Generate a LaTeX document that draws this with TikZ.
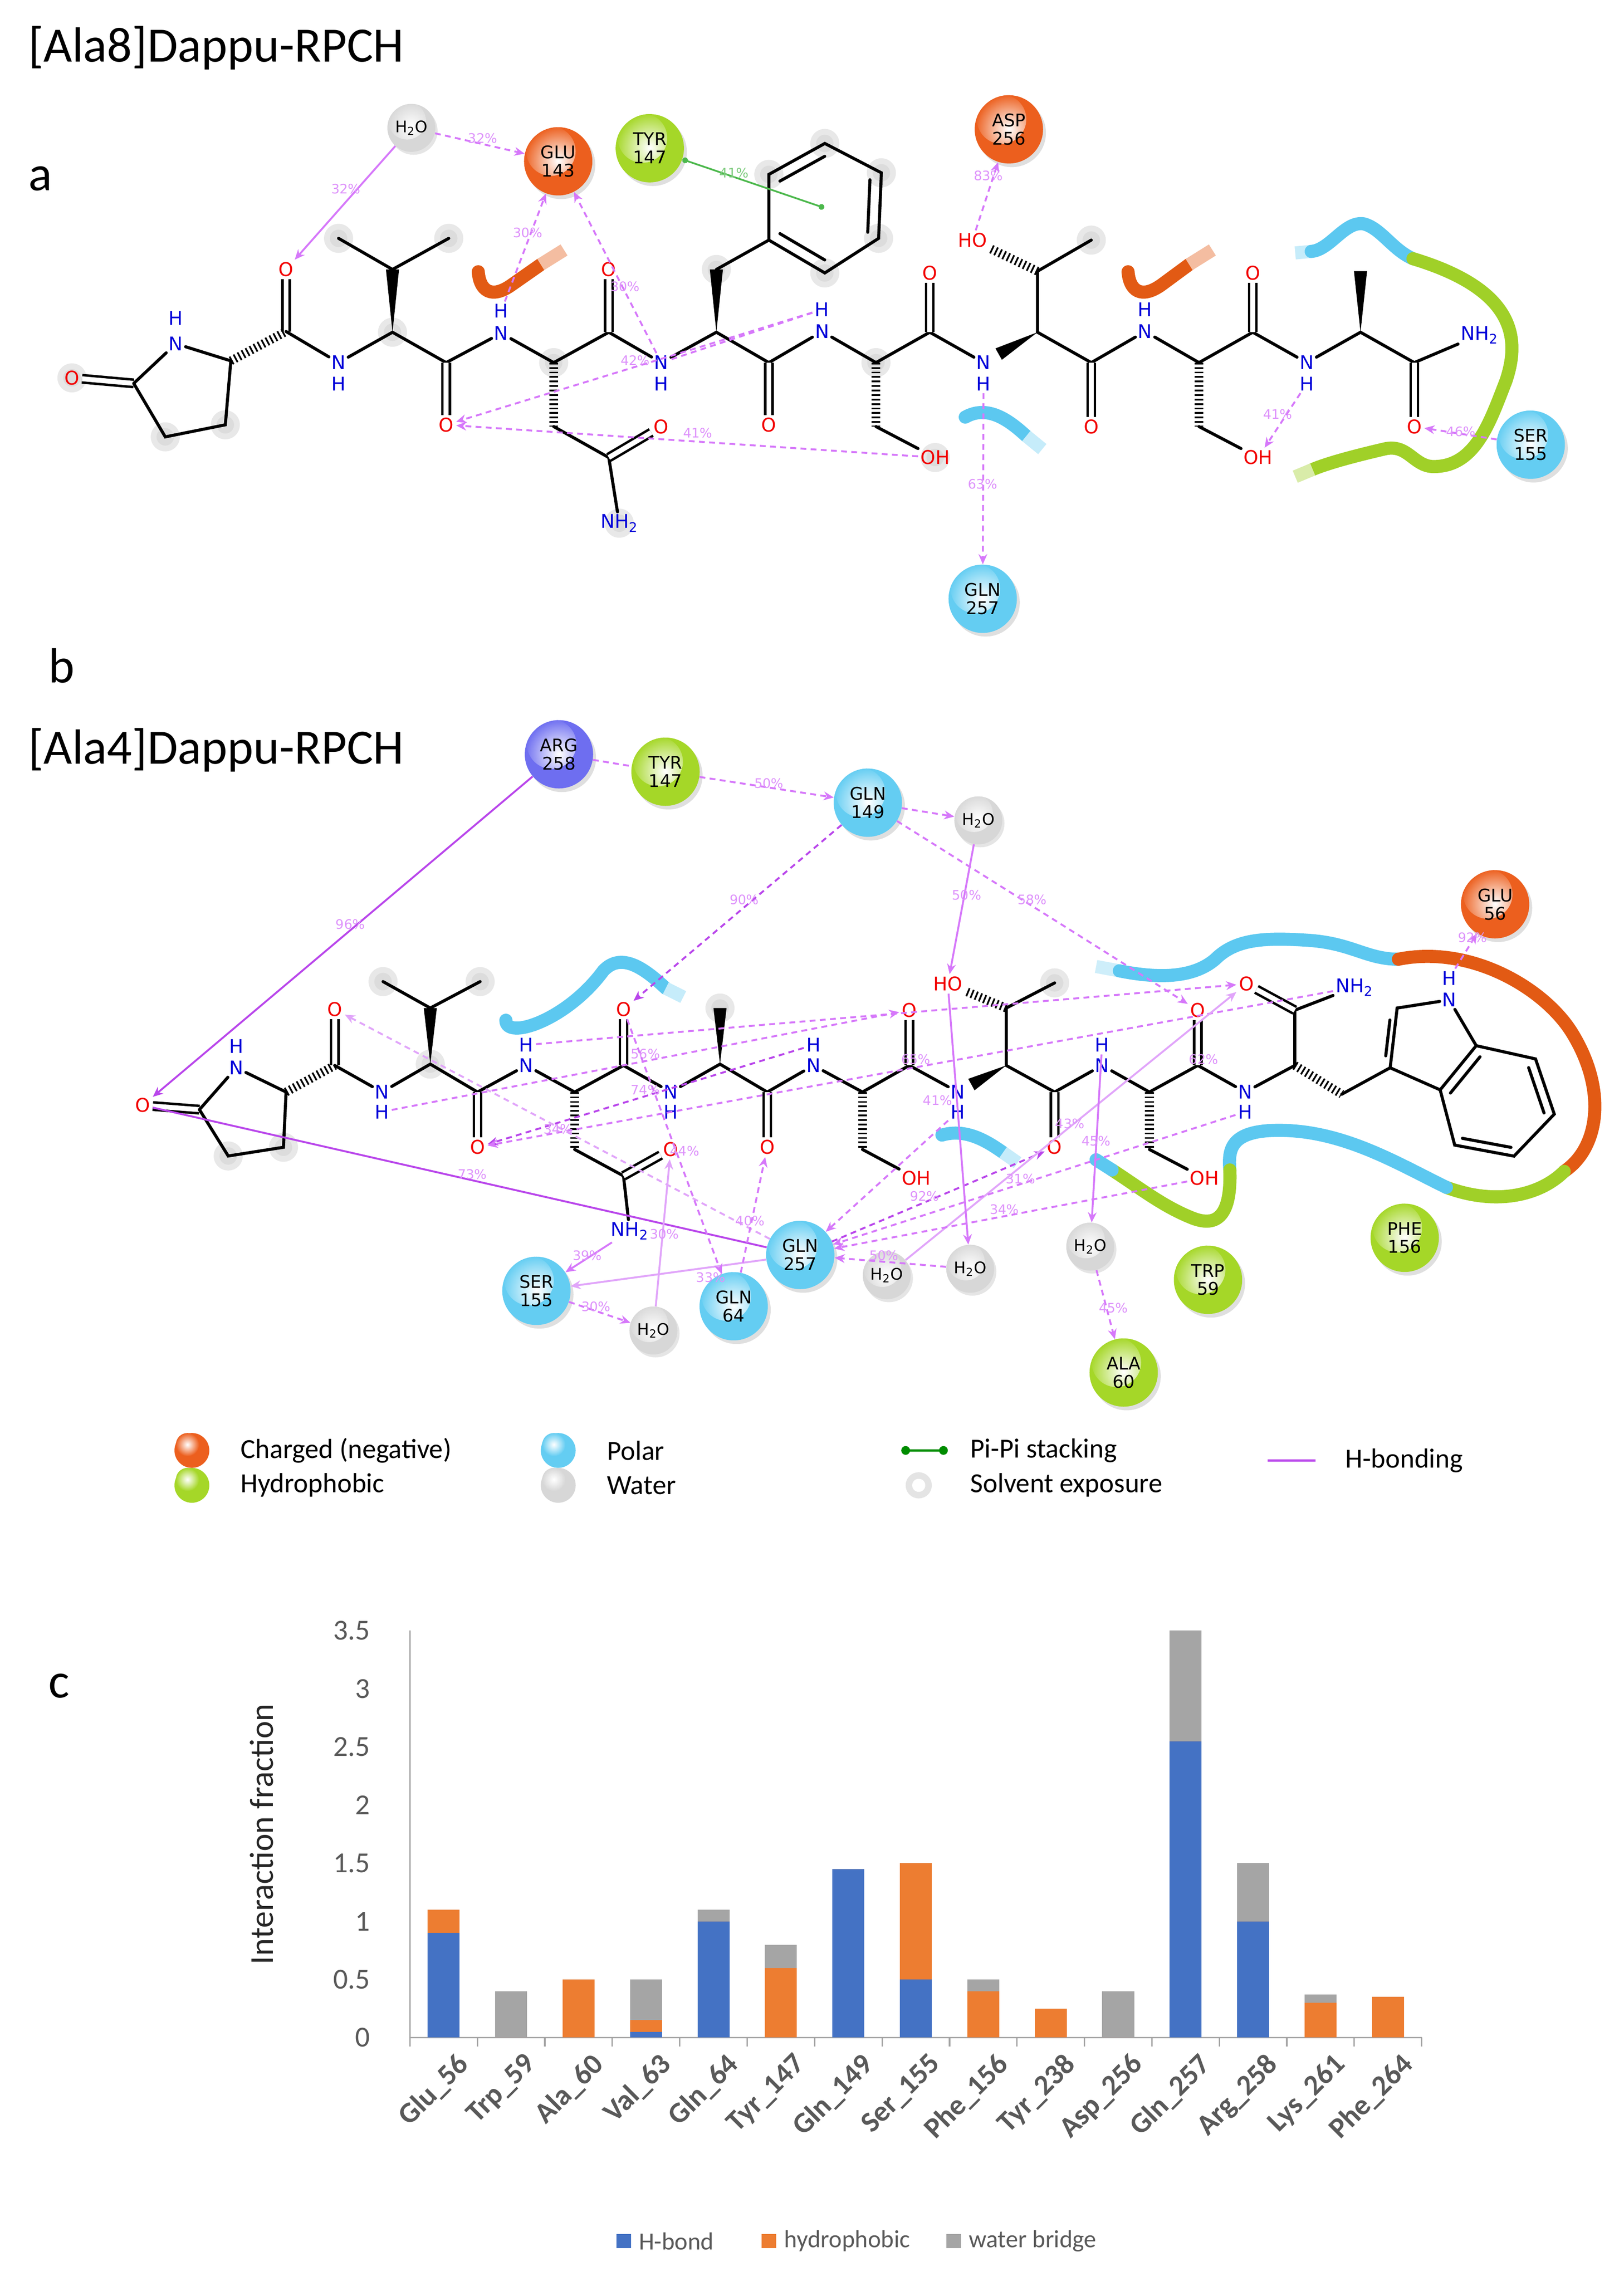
\documentclass[tikz,border=0pt]{standalone}
\usepackage{fontspec}
\setmainfont{Carlito}
\newfontfamily\dv{DejaVu Sans}
\usetikzlibrary{arrows.meta,calc,shadings,shadows}
\definecolor{hbc}{RGB}{214,120,250}
\definecolor{hbd}{RGB}{185,70,235}
\definecolor{hbl}{RGB}{225,165,250}
\definecolor{cyanr}{RGB}{92,200,240}
\definecolor{orr}{RGB}{226,90,20}
\definecolor{grr}{RGB}{160,208,40}
\definecolor{bOr}{RGB}{236,95,30}
\definecolor{bGr}{RGB}{165,215,40}
\definecolor{bCy}{RGB}{100,205,242}
\definecolor{bBl}{RGB}{110,110,240}
\definecolor{bWt}{RGB}{215,215,215}
\definecolor{bH}{RGB}{68,114,196}
\definecolor{bP}{RGB}{237,125,49}
\definecolor{bW}{RGB}{165,165,165}
\definecolor{axg}{RGB}{89,89,89}
\tikzset{
 bond/.style={line width=2.1pt, line cap=round},
 dbond/.style={double=white, double distance=3.4pt, line width=1.7pt},
 hashb/.style={line width=6pt, dash pattern=on 1.2pt off 1.9pt},
 atm/.style={font=\dv\fontsize{13}{13}\selectfont, inner sep=1.6pt},
 Oat/.style={atm, text=red!95!black},
 Nat/.style={atm, text=blue!85!black},
 sball/.style={fill=#1, drop shadow={opacity=0.25,shadow xshift=2pt,shadow yshift=-2.5pt},
   path picture={\shade[inner color=white,outer color=#1] ([xshift=-5pt,yshift=7pt]path picture bounding box.center) circle (17pt);}},
 res/.style={circle, minimum size=47pt, inner sep=0pt, align=center, font=\dv\fontsize{12}{12.5}\selectfont},
 wat/.style={circle, minimum size=33pt, inner sep=0pt, font=\dv\fontsize{11}{11}\selectfont, fill=bWt, drop shadow={opacity=0.2,shadow xshift=1.5pt,shadow yshift=-2pt},
   path picture={\shade[inner color=white,outer color=bWt] ([xshift=-3pt,yshift=5pt]path picture bounding box.center) circle (13pt);}},
 rOr/.style={res, sball=bOr},
 rGr/.style={res, sball=bGr},
 rCy/.style={res, sball=bCy},
 rBl/.style={res, sball=bBl},
 hb/.style={draw=hbc, line width=1.3pt, dash pattern=on 4pt off 3pt, -{Stealth[length=7pt,width=6pt]}},
 hbs/.style={draw=hbc, line width=1.3pt, -{Stealth[length=7pt,width=6pt]}},
 pct/.style={font=\dv\fontsize{9}{9}\selectfont, text=hbc!80, inner sep=0.5pt},
 surf/.style={line width=9pt, line cap=round},
 halo/.style={fill=gray!40, opacity=0.45},
 ttl/.style={font=\fontsize{34}{34}\selectfont, anchor=west},
 lg/.style={font=\fontsize{19}{19}\selectfont, anchor=west},
}
\newcommand\wdg[2]{\fill (#1) -- ($(#2)!4.5pt!90:(#1)$) -- ($(#2)!4.5pt!-90:(#1)$) -- cycle;}
\newcommand\halos[1]{\foreach \p in {#1}{\fill[halo] \p circle (10); \fill[gray!45,opacity=.35] \p circle (6);}}
\newcommand\lball[2]{\fill[#2] (#1) circle (12); \shade[inner color=white,outer color=#2] ($(#1)+(-3,-4)$) circle (8);}
\begin{document}
\begin{tikzpicture}[x=1pt,y=-1pt]
\useasboundingbox[fill=white] (0,0) rectangle (1117,1569.5);
% ---------- titles
\node[ttl] at (16,33) {[Ala8]Dappu-RPCH};
\node[ttl] at (16,123) {a};
\node[ttl] at (30,458) {b};
\node[ttl] at (16,516) {[Ala4]Dappu-RPCH};
\node[ttl] at (30,1160) {c};
% ================= PANEL A =================
\halos{(49.5,260),(113.7,300.6),(155,292.3),(232.9,164),(308.7,164),(270,228.6),(380.9,249.5),(426,360),(492.8,185.4),(528.9,120),(567.4,98.7),(606.3,118.9),(604.4,164),(567.4,187.8),(750.7,165.2),(602.6,249.5),(643.3,314.8)}
% surface strokes
\draw[surf,orr] (329,187) .. controls (330,200) and (338,206) .. (352,196) -- (372,182);
\draw[surf,orr!40,line cap=butt] (372,182) -- (388,172);
\draw[surf,orr] (776,187) .. controls (777,200) and (785,206) .. (799,196) -- (818,182);
\draw[surf,orr!40,line cap=butt] (818,182) -- (834,172);
\draw[surf,cyanr] (664,287) .. controls (680,278) and (695,290) .. (706,300);
\draw[surf,cyanr!35,line cap=butt] (706,300) -- (717,309);
\draw[surf,cyanr!35,line cap=butt] (891,174) -- (902,173);
\draw[surf,cyanr] (902,173) .. controls (915,172) and (925,152) .. (938,154) .. controls (950,157) and (958,172) .. (972,178);
\draw[surf,grr] (972,178) .. controls (1045,200) and (1045,235) .. (1036,262) .. controls (1025,290) and (1015,322) .. (985,321) .. controls (972,320) and (968,305) .. (952,309) .. controls (935,313) and (915,318) .. (903,323);
\draw[surf,grr!40,line cap=butt] (903,323) -- (891,328);
% atoms
\node[Oat] (aO1) at (49.5,260) {O};
\coordinate (aC5) at (92,263.8);
\node[Nat] (aN1) at (121,236.5) {N}; \node[Nat] at (121,219) {H};
\coordinate (aCa1) at (158.8,248.3); \coordinate (aCb1) at (155,292.3); \coordinate (aCg1) at (113.7,300.6);
\coordinate (aC1) at (196.8,228.1); \node[Oat] (aOc1) at (196.8,185.4) {O};
\node[Nat] (aN2) at (232.9,249.5) {N}; \node[Nat] at (232.9,264) {H};
\coordinate (aCa2) at (270,228.6); \coordinate (aCb2) at (270,185.4);
\coordinate (aM1) at (232.9,164); \coordinate (aM2) at (308.7,164);
\coordinate (aC2) at (306.9,249.5); \node[Oat] (aOc2) at (306.9,292.3) {O};
\node[Nat] (aN3) at (344.8,229.3) {N}; \node[Nat] (aH3) at (344.8,214) {H};
\coordinate (aCa3) at (380.9,249.5); \coordinate (aCb3) at (380.9,293.5); \coordinate (aCam) at (418.8,314.8);
\node[Oat] (aOam) at (454.9,293.5) {O}; \node[Nat] (aNam) at (426,360) {NH\textsubscript{2}};
\coordinate (aC3) at (418.8,228.6); \node[Oat] (aOc3) at (418.8,185.4) {O};
\node[Nat] (aN4) at (454.9,249.5) {N}; \node[Nat] (aH4) at (454.9,264) {H};
\coordinate (aCa4) at (492.8,228.6); \coordinate (aCb4) at (492.8,185.4);
\coordinate (aC4) at (528.9,249.5); \node[Oat] (aOc4) at (528.9,292.3) {O};
\node[Nat] (aN5) at (565.5,228.1) {N}; \node[Nat] (aH5) at (565.5,213) {H};
\coordinate (aCa5) at (602.6,249.5); \coordinate (aCb5) at (602.6,293.5); \node[Oat] (aOH5) at (643.3,314.8) {OH};
\coordinate (aC5b) at (639.6,228.6); \node[Oat] (aOc5) at (639.6,187.8) {O};
\node[Nat] (aN6) at (676.6,249.5) {N}; \node[Nat] (aH6) at (676.6,264) {H};
\coordinate (aCa6) at (713.7,228.6); \coordinate (aCb6) at (713.7,186.6);
\coordinate (aN6w) at ($(aCa6)!0.72!(aN6)$);
\node[Oat] (aHO6) at (669,165.2) {HO}; \coordinate (aM6) at (750.7,165.2);
\coordinate (aC6) at (750.7,249.5); \node[Oat] (aOc6) at (750.7,293.5) {O};
\node[Nat] (aN7) at (787.7,228.1) {N}; \node[Nat] at (787.7,213) {H};
\coordinate (aCa7) at (824.8,249.5); \coordinate (aCb7) at (824.8,293.5); \node[Oat] (aOH7) at (865.5,314.8) {OH};
\coordinate (aC7) at (861.8,228.6); \node[Oat] (aOc7) at (861.8,187.8) {O};
\node[Nat] (aN8) at (898.9,249.5) {N}; \node[Nat] (aH8) at (898.9,264) {H};
\coordinate (aCa8) at (935.9,228.6); \coordinate (aM8) at (935.9,186.6);
\coordinate (aC8) at (972.9,249.5); \node[Oat] (aOc8) at (972.9,293.5) {O};
\node[Nat,anchor=west] (aNH2) at (1003,230.5) {NH\textsubscript{2}};
\coordinate (r1) at (528.9,165.2); \coordinate (r2) at (528.9,120); \coordinate (r3) at (567.4,98.7);
\coordinate (r4) at (606.3,118.9); \coordinate (r5) at (604.4,164); \coordinate (r6) at (567.4,187.8);
\coordinate (rc) at (567,143);
% bonds
\draw[dbond] (aO1) -- (aC5);
\draw[bond] (aC5) -- (aN1) -- (aCa1) -- (aCb1) -- (aCg1) -- (aC5);
\draw[hashb] (aCa1) -- (aC1);
\draw[dbond] (aC1) -- (aOc1);
\draw[bond] (aC1) -- (aN2) -- (aCa2) -- (aC2) -- (aN3) -- (aCa3) -- (aC3) -- (aN4) -- (aCa4) -- (aC4) -- (aN5) -- (aCa5) -- (aC5b) -- (aN6);
\draw[bond] (aCa6) -- (aC6) -- (aN7) -- (aCa7) -- (aC7) -- (aN8) -- (aCa8) -- (aC8) -- (aNH2);
\wdg{aCa2}{aCb2} \draw[bond] (aM1) -- (aCb2) -- (aM2);
\draw[dbond] (aC2) -- (aOc2); \draw[dbond] (aC3) -- (aOc3); \draw[dbond] (aC4) -- (aOc4);
\draw[dbond] (aC5b) -- (aOc5); \draw[dbond] (aC6) -- (aOc6); \draw[dbond] (aC7) -- (aOc7); \draw[dbond] (aC8) -- (aOc8);
\draw[hashb] (aCa3) -- (aCb3); \draw[bond] (aCb3) -- (aCam) -- (aNam); \draw[dbond] (aCam) -- (aOam);
\wdg{aCa4}{aCb4} \draw[bond] (aCb4) -- (r1);
\draw[bond] (r1) -- (r2) -- (r3) -- (r4) -- (r5) -- (r6) -- cycle;
\draw[bond] ($(r2)!.2!(rc)$) -- ($(r3)!.2!(rc)$) ($(r4)!.2!(rc)$) -- ($(r5)!.2!(rc)$) ($(r6)!.2!(rc)$) -- ($(r1)!.2!(rc)$);
\draw[hashb] (aCa5) -- (aCb5); \draw[bond] (aCb5) -- (aOH5);
\wdg{aCa6}{aN6w} \draw[bond] (aCa6) -- (aCb6) -- (aM6); \draw[hashb] (aCb6) -- (aHO6);
\draw[hashb] (aCa7) -- (aCb7); \draw[bond] (aCb7) -- (aOH7);
\wdg{aCa8}{aM8}
% residues
\node[wat] (aW1) at (283,88) {H\textsubscript{2}O};
\node[rOr] (aGLU) at (384,111) {GLU\\143};
\node[rGr] (aTYR) at (447,102) {TYR\\147};
\node[rOr] (aASP) at (694,89) {ASP\\256};
\node[rCy] (aGLN) at (676,412) {GLN\\257};
\node[rCy] (aSER) at (1053,306) {SER\\155};
% interactions
\draw[hbs] (aW1) -- (aOc1); \node[pct] at (238,130) {32\%};
\draw[hb] (aW1) -- (aGLU); \node[pct] at (332,95) {32\%};
\draw[hb] (aH3) -- (aGLU); \node[pct] at (363,160) {30\%};
\draw[hb] (aN4) -- (aGLU); \node[pct] at (430,197) {30\%};
\draw[hb] (aH5) -- (aOc2); \node[pct] at (437,248) {42\%};
\draw[hb,-] (aH5) -- (aN4);
\draw[hb] (aOH5) -- (aOc2); \node[pct] at (480,298) {41\%};
\draw[green!60!black!70,line width=1.2pt,{Circle[length=4pt]}-{Circle[length=4pt]}] (aTYR) -- (rc); \node[pct,text=green!60!black!50] at (505,119) {41\%};
\draw[hb] (aHO6) -- (aASP); \node[pct] at (680,121) {83\%};
\draw[hb] (aH6) -- (aGLN); \node[pct] at (676,333) {63\%};
\draw[hb] (aH8) -- (aOH7); \node[pct] at (879,285) {41\%};
\draw[hb] (aSER) -- (aOc8); \node[pct] at (1005,297) {46\%};
% ================= PANEL B =================
\halos{(157,795.4),(195,789.4),(263.5,675.4),(330.3,675.4),(296,732.2),(495.3,693.6),(725.5,676.3)}
\draw[surf,cyanr] (348,702) .. controls (348,716) and (390,702) .. (415,668) .. controls (428,654) and (445,668) .. (458,680);
\draw[surf,cyanr!35,line cap=butt] (458,680) -- (470,686);
\draw[surf,cyanr!30,line cap=butt] (754,665) -- (770,668);
\draw[surf,cyanr] (770,668) .. controls (800,674) and (822,672) .. (836,660) .. controls (850,646) and (870,645) .. (900,647) .. controls (930,649) and (940,660) .. (962,660);
\draw[surf,orr] (962,660) .. controls (1012,650) and (1062,680) .. (1081,710) .. controls (1106,750) and (1100,790) .. (1076,806);
\draw[surf,grr] (1076,806) .. controls (1060,822) and (1030,830) .. (995,817);
\draw[surf,cyanr] (995,817) .. controls (960,800) and (920,775) .. (872,778) .. controls (846,780) and (845,792) .. (846,805);
\draw[surf,grr] (846,805) .. controls (847,832) and (840,846) .. (820,838) .. controls (800,830) and (785,818) .. (765,805);
\draw[surf,cyanr] (765,805) -- (754,798);
\draw[surf,cyanr] (648,781) .. controls (665,776) and (680,786) .. (690,793);
\draw[surf,cyanr!35,line cap=butt] (690,793) -- (700,800);
% atoms
\node[Oat] (bO1) at (98.2,760.5) {O};
\coordinate (bC5) at (137.2,763.5);
\node[Nat] (bN1) at (162.5,734.7) {N}; \node[Nat] at (162.5,720) {H};
\coordinate (bCa1) at (196.8,751.4); \coordinate (bCb1) at (195,789.4); \coordinate (bCg1) at (157,795.4);
\coordinate (bC1) at (230.3,733.1); \node[Oat] (bOc1) at (230.3,694.5) {O};
\node[Nat] (bN2) at (262.8,751.4) {N}; \node[Nat] (bH2) at (262.8,765) {H};
\coordinate (bCa2) at (296,732.2); \coordinate (bCb2) at (296,693.6);
\coordinate (bM1) at (263.5,675.4); \coordinate (bM2) at (330.3,675.4);
\coordinate (bC2) at (328.5,751.4); \node[Oat] (bOc2) at (328.5,789.4) {O};
\node[Nat] (bN3) at (362,733.1) {N}; \node[Nat] (bH3) at (362,719) {H};
\coordinate (bCa3) at (395.3,751.4); \coordinate (bCb3) at (395.3,790.9); \coordinate (bCam) at (428.9,809.1);
\node[Oat] (bOam) at (461.4,790.9) {O}; \node[Nat] (bNam) at (433.2,847) {NH\textsubscript{2}};
\coordinate (bC3) at (428.9,733.1); \node[Oat] (bOc3) at (428.9,694.5) {O};
\node[Nat] (bN4) at (461.4,751.4) {N}; \node[Nat] (bH4) at (461.4,765) {H};
\coordinate (bCa4) at (495.3,732.2); \coordinate (bM4) at (495.3,693.6);
\coordinate (bC4) at (527.8,751.4); \node[Oat] (bOc4) at (527.8,789.4) {O};
\node[Nat] (bN5) at (559.6,733.1) {N}; \node[Nat] (bH5) at (559.6,719) {H};
\coordinate (bCa5) at (593.3,751.4); \coordinate (bCb5) at (593.3,790.9); \node[Oat] (bOH5) at (630.3,810.7) {OH};
\coordinate (bC5b) at (625.5,733.1); \node[Oat] (bOc5) at (625.5,695.1) {O};
\node[Nat] (bN6) at (658.9,751.4) {N}; \node[Nat] (bH6) at (658.9,765) {H};
\coordinate (bCa6) at (692.2,733.1); \coordinate (bCb6) at (692.2,693.6);
\coordinate (bN6w) at ($(bCa6)!0.72!(bN6)$);
\node[Oat] (bHO6) at (652,677) {HO}; \coordinate (bM6) at (725.5,676.3);
\coordinate (bC6) at (725.5,751.4); \node[Oat] (bOc6) at (725.5,789.4) {O};
\node[Nat] (bN7) at (758.1,733.1) {N}; \node[Nat] (bH7) at (758.1,719) {H};
\coordinate (bCa7) at (790.7,751.4); \coordinate (bCb7) at (790.7,790.9); \node[Oat] (bOH7) at (828.5,810.7) {OH};
\coordinate (bC7) at (824,733.1); \node[Oat] (bOc7) at (824,695.1) {O};
\node[Nat] (bN8) at (856.6,751.4) {N}; \node[Nat] (bH8) at (856.6,765) {H};
\coordinate (bCa8) at (890.7,733.1); \coordinate (bC8) at (890.7,695.1);
\node[Oat] (bOc8) at (857.4,677) {O}; \node[Nat,anchor=west] (bNH2) at (917,679.3) {NH\textsubscript{2}};
\coordinate (bCb8) at (923,752.9); \coordinate (i3) at (956.3,734.7); \coordinate (i2) at (961.1,693.6);
\node[Nat] (iN) at (997,688) {N}; \node[Nat] (iH) at (997,673) {H};
\coordinate (i7a) at (1015.5,719.5); \coordinate (i3a) at (990.7,749.9); \coordinate (i7) at (1056.3,728.6);
\coordinate (i6) at (1069.2,766.6); \coordinate (i5) at (1041.5,795.5); \coordinate (i4) at (1000.7,787.9);
\coordinate (ic) at (1030,762);
% bonds b
\draw[dbond] (bO1) -- (bC5);
\draw[bond] (bC5) -- (bN1) -- (bCa1) -- (bCb1) -- (bCg1) -- (bC5);
\draw[hashb] (bCa1) -- (bC1); \draw[dbond] (bC1) -- (bOc1);
\draw[bond] (bC1) -- (bN2) -- (bCa2) -- (bC2) -- (bN3) -- (bCa3) -- (bC3) -- (bN4) -- (bCa4) -- (bC4) -- (bN5) -- (bCa5) -- (bC5b) -- (bN6);
\draw[bond] (bCa6) -- (bC6) -- (bN7) -- (bCa7) -- (bC7) -- (bN8) -- (bCa8) -- (bC8) -- (bNH2);
\wdg{bCa2}{bCb2} \draw[bond] (bM1) -- (bCb2) -- (bM2);
\draw[dbond] (bC2) -- (bOc2); \draw[dbond] (bC3) -- (bOc3); \draw[dbond] (bC4) -- (bOc4);
\draw[dbond] (bC5b) -- (bOc5); \draw[dbond] (bC6) -- (bOc6); \draw[dbond] (bC7) -- (bOc7); \draw[dbond] (bC8) -- (bOc8);
\draw[hashb] (bCa3) -- (bCb3); \draw[bond] (bCb3) -- (bCam) -- (bNam); \draw[dbond] (bCam) -- (bOam);
\wdg{bCa4}{bM4}
\draw[hashb] (bCa5) -- (bCb5); \draw[bond] (bCb5) -- (bOH5);
\wdg{bCa6}{bN6w} \draw[bond] (bCa6) -- (bCb6) -- (bM6); \draw[hashb] (bCb6) -- (bHO6);
\draw[hashb] (bCa7) -- (bCb7); \draw[bond] (bCb7) -- (bOH7);
\draw[hashb] (bCa8) -- (bCb8); \draw[bond] (bCb8) -- (i3) -- (i2) -- (iN) -- (i7a) -- (i3a) -- (i3);
\draw[bond] (i7a) -- (i7) -- (i6) -- (i5) -- (i4) -- (i3a);
\draw[bond] ($(i3)!.2!(i2)+(-4,0)$) -- ($(i2)!.2!(i3)+(-4,0)$);
\draw[bond] ($(i7)!.18!(ic)$) -- ($(i6)!.18!(ic)$) ($(i5)!.18!(ic)$) -- ($(i4)!.18!(ic)$) ($(i3a)!.18!(ic)$) -- ($(i7a)!.18!(ic)$);
% residues b
\node[rBl] (bARG) at (384.5,519) {ARG\\258};
\node[rGr] (bTYR) at (457.8,531) {TYR\\147};
\node[rCy] (bG149) at (597,552.3) {GLN\\149};
\node[wat] (bW1) at (673,564.5) {H\textsubscript{2}O};
\node[rOr] (bGLU) at (1028.5,622.2) {GLU\\56};
\node[rCy] (bG257) at (550.5,863.5) {GLN\\257};
\node[rCy] (bSER) at (369,888.2) {SER\\155};
\node[wat] (bW2) at (449.5,915.5) {H\textsubscript{2}O};
\node[rCy] (bG64) at (504.7,898.8) {GLN\\64};
\node[wat] (bW3) at (610,877.5) {H\textsubscript{2}O};
\node[wat] (bW4) at (667.4,873) {H\textsubscript{2}O};
\node[wat] (bW5) at (750,857.8) {H\textsubscript{2}O};
\node[rGr] (bTRP) at (831,880.6) {TRP\\59};
\node[rGr] (bPHE) at (966.3,851.7) {PHE\\156};
\node[rGr] (bALA) at (773,944.4) {ALA\\60};
% interactions b
\draw[hbs,draw=hbd] (bARG) -- (bO1); \node[pct] at (241,636) {96\%};
\draw[hbs,draw=hbd,-] (bO1) -- (bG257); \node[pct] at (325,808) {73\%};
\draw[hb,-] (bARG) -- (bTYR);
\draw[hb] (bTYR) -- (bG149); \node[pct] at (529,539) {50\%};
\draw[hb,draw=hbd] (bG149) -- (bOc3); \node[pct] at (512,619) {90\%};
\draw[hb] (bG149) -- (bW1);
\draw[hbs] (bW1) -- (bHO6); \node[pct] at (665,616) {50\%};
\draw[hb] (bG149) -- (bOc7); \node[pct] at (710,619) {58\%};
\draw[hb] (iH) -- (bGLU); \node[pct] at (1013,645) {92\%};
\draw[hb] (bH2) -- (bOc5); \node[pct] at (444,725) {56\%};
\draw[hb,draw=hbd] (bH5) -- (bOc2); \node[pct] at (444,750) {74\%};
\draw[hb] (bNH2) -- (bOc2); \node[pct] at (630,729) {65\%};
\draw[hb] (bH3) -- (bOc8); \node[pct] at (828,729) {62\%};
\draw[hb,draw=hbl] (bG257) -- (bOc1); \node[pct] at (384,777) {34\%};
\draw[hb,draw=hbd] (bG257) -- (bOc6); \node[pct] at (636,823) {92\%};
\draw[hbs,draw=hbl] (bW3) -- (bOc8); \node[pct] at (736,773) {43\%};
\draw[hb] (bH8) -- (bG257); \node[pct] at (702,811) {31\%};
\draw[hb] (bOH7) -- (bG257); \node[pct] at (691,832) {34\%};
\draw[hb] (bW4) -- (bG257); \node[pct] at (608,864) {50\%};
\draw[hbs,draw=hbl] (bG257) -- (bSER); \node[pct] at (489,879) {33\%};
\draw[hbs] (bNam) -- (bSER); \node[pct] at (404,864) {39\%};
\draw[hb] (bSER) -- (bW2); \node[pct] at (410,899) {30\%};
\draw[hbs,draw=hbl] (bW2) -- (bOam); \node[pct] at (457,849) {30\%};
\draw[hb] (bG64) -- (bOc4); \node[pct] at (516,840) {40\%};
\draw[hb] (bOc3) -- (bG64); \node[pct] at (471,792) {44\%};
\draw[hbs] (bH7) -- (bW5); \node[pct] at (754,785) {45\%};
\draw[hb] (bW5) -- (bALA); \node[pct] at (766,900) {45\%};
\draw[hbs] (bHO6) -- (bW4);
\draw[hb] (bH6) -- (bG257); \node[pct] at (645,757) {41\%};
% ================= LEGEND =================
\coordinate (L1) at (132,998); \coordinate (L2) at (132,1022); \coordinate (L3) at (384,998); \coordinate (L4) at (384,1022);
\lball{L1}{bOr} \node[lg] at (162,998) {Charged (negative)};
\lball{L2}{bGr} \node[lg] at (162,1022) {Hydrophobic};
\lball{L3}{bCy} \node[lg] at (414,998) {Polar};
\lball{L4}{bWt} \node[lg] at (414,1022) {Water};
\draw[green!55!black,line width=1.6pt,{Circle[length=6pt]}-{Circle[length=6pt]}] (620,998) -- (652,998); \node[lg] at (664,998) {Pi-Pi stacking};
\fill[gray!35,opacity=.6] (632,1022) circle (9); \fill[white] (632,1022) circle (4.5); \node[lg] at (664,1022) {Solvent exposure};
\draw[hbd,line width=1.6pt] (872,1005) -- (905,1005); \node[lg] at (922,1005) {H-bonding};
% ================= CHART C =================
\foreach \v/\t in {0/0,0.5/0.5,1/1,1.5/1.5,2/2,2.5/2.5,3/3,3.5/3.5}{
  \node[anchor=east,font=\fontsize{20}{20}\selectfont,text=axg] at (258,{1402-80*\v}) {\t};}
\draw[gray!70,line width=1pt] (282,1402) -- (282,1122);
\draw[gray!70,line width=1pt] (282,1402) -- (978,1402);
\foreach \i in {0,...,15}{\draw[gray!70,line width=1pt] ({282+46.4*\i},1402) -- ({282+46.4*\i},1408);}
\foreach [count=\i from 0] \n/\h/\p/\w in {Glu\_56/0.9/0.2/0,Trp\_59/0/0/0.4,Ala\_60/0/0.5/0,Val\_63/0.05/0.1/0.35,Gln\_64/1/0/0.1,Tyr\_147/0/0.6/0.2,Gln\_149/1.45/0/0,Ser\_155/0.5/1/0,Phe\_156/0/0.4/0.1,Tyr\_238/0/0.25/0,Asp\_256/0/0/0.4,Gln\_257/2.55/0/0.95,Arg\_258/1/0/0.5,Lys\_261/0/0.3/0.07,Phe\_264/0/0.35/0}{
  \pgfmathsetmacro\xc{305.2+46.4*\i}
  \fill[bH] ({\xc-11},1402) rectangle ({\xc+11},{1402-80*\h});
  \fill[bP] ({\xc-11},{1402-80*\h}) rectangle ({\xc+11},{1402-80*(\h+\p)});
  \fill[bW] ({\xc-11},{1402-80*(\h+\p)}) rectangle ({\xc+11},{1402-80*(\h+\p+\w)});
  \node[rotate=45,anchor=north east,font=\bfseries\fontsize{20}{20}\selectfont,text=axg,inner sep=1pt] at ({\xc+8},1410) {\n};
}
\node[rotate=90,font=\fontsize{23}{23}\selectfont,text=black!85] at (180,1262) {Interaction fraction};
\fill[bH] (424,1537) rectangle (434,1547); \node[anchor=west,font=\fontsize{17}{17}\selectfont,text=axg] at (436,1542) {H-bond};
\fill[bP] (524,1537) rectangle (534,1547); \node[anchor=west,font=\fontsize{17}{17}\selectfont,text=axg] at (536,1542) {hydrophobic};
\fill[bW] (651,1537) rectangle (661,1547); \node[anchor=west,font=\fontsize{17}{17}\selectfont,text=axg] at (663,1542) {water bridge};
\end{tikzpicture}
\end{document}
